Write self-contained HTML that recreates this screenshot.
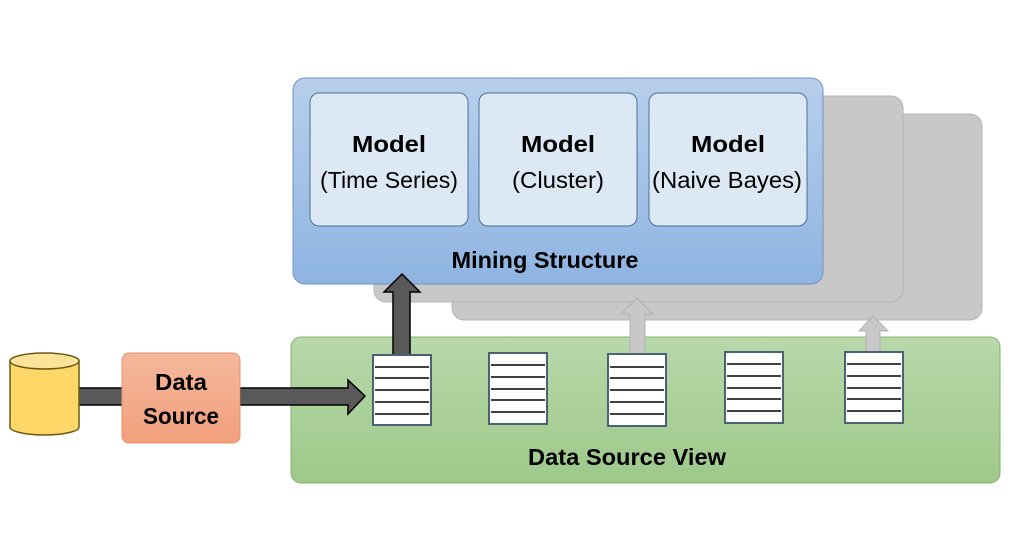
<!DOCTYPE html>
<html><head><meta charset="utf-8"><style>
html,body{margin:0;padding:0;background:#fff;}
svg{display:block;}
text{font-family:"Liberation Sans",sans-serif;}
</style></head><body>
<svg width="1026" height="556" viewBox="0 0 1026 556" xmlns="http://www.w3.org/2000/svg">
<defs>
<linearGradient id="bl" x1="0" y1="0" x2="0" y2="1"><stop offset="0" stop-color="#b7cfec"/><stop offset="1" stop-color="#8fb4e2"/></linearGradient>
<linearGradient id="gr" x1="0" y1="0" x2="0" y2="1"><stop offset="0" stop-color="#b8d8aa"/><stop offset="1" stop-color="#9ec98a"/></linearGradient>
<linearGradient id="or" x1="0" y1="0" x2="0" y2="1"><stop offset="0" stop-color="#f5b79c"/><stop offset="1" stop-color="#f2a07c"/></linearGradient>
</defs>
<rect x="452" y="114" width="530" height="206" rx="12" fill="#c8c8c8" stroke="#b4b4b4"/>
<rect x="374" y="96" width="529" height="206" rx="12" fill="#c8c8c8" stroke="#b4b4b4"/>
<rect x="293" y="78" width="530" height="206" rx="12" fill="url(#bl)" stroke="#6f94c4"/>
<g fill="#dde8f5" stroke="#4f6f95" stroke-width="1">
<rect x="310" y="93" width="158" height="133" rx="9"/>
<rect x="479" y="93" width="158" height="133" rx="9"/>
<rect x="649" y="93" width="158" height="133" rx="9"/>
</g>
<g font-size="23" text-anchor="middle" fill="#000">
<text x="389" y="152" font-weight="bold" textLength="74" lengthAdjust="spacingAndGlyphs">Model</text>
<text x="389" y="188" textLength="138" lengthAdjust="spacingAndGlyphs">(Time Series)</text>
<text x="558" y="152" font-weight="bold" textLength="74" lengthAdjust="spacingAndGlyphs">Model</text>
<text x="558" y="188" textLength="92" lengthAdjust="spacingAndGlyphs">(Cluster)</text>
<text x="728" y="152" font-weight="bold" textLength="74" lengthAdjust="spacingAndGlyphs">Model</text>
<text x="727" y="188" textLength="150" lengthAdjust="spacingAndGlyphs">(Naive Bayes)</text>
<text x="545" y="268" font-weight="bold" textLength="187" lengthAdjust="spacingAndGlyphs">Mining Structure</text>
</g>
<rect x="291" y="337" width="709" height="146" rx="10" fill="url(#gr)" stroke="#85b06f"/>
<text x="627" y="465" font-size="23" font-weight="bold" text-anchor="middle" textLength="198" lengthAdjust="spacingAndGlyphs">Data Source View</text>
<polygon points="630,355 630,314 621,314 637,298 653,314 645,314 645,355" fill="#c8c8c8" stroke="#b0b0b0"/>
<polygon points="866,352 866,331 859,331 873,316 888,331 880,331 880,352" fill="#c8c8c8" stroke="#b0b0b0"/>
<polygon points="393,355 393,292 384,292 402,274 420,292 410,292 410,355" fill="#595959" stroke="#000" stroke-width="1.5"/>
<g fill="#fff" stroke="#4a6272" stroke-width="2">
<rect x="373" y="355" width="58" height="70"/>
<rect x="489" y="353" width="58" height="71"/>
<rect x="608" y="354" width="58" height="72"/>
<rect x="725" y="352" width="58" height="71"/>
<rect x="845" y="352" width="58" height="71"/>
</g>
<g stroke="#000" stroke-width="1.6">
<path d="M375 367h54M375 378h54M375 390h54M375 402h54M375 414h54"/>
<path d="M491 365h54M491 377h54M491 389h54M491 400h54M491 412h54"/>
<path d="M610 367h54M610 378h54M610 390h54M610 402h54M610 414h54"/>
<path d="M727 364h54M727 376h54M727 388h54M727 399h54M727 411h54"/>
<path d="M847 364h54M847 376h54M847 388h54M847 399h54M847 411h54"/>
</g>
<rect x="78" y="388" width="46" height="17" fill="#595959" stroke="#000" stroke-width="1.5"/>
<polygon points="240,388 348,388 348,380 365,396 348,414 348,405 240,405" fill="#595959" stroke="#000" stroke-width="1.5"/>
<path d="M10 361 v66 a34.5 8 0 0 0 69 0 v-66" fill="#fdd868" stroke="#6b5a10" stroke-width="1.5"/>
<ellipse cx="44.5" cy="361" rx="34.5" ry="8" fill="#fde29a" stroke="#6b5a10" stroke-width="1.5"/>
<rect x="122" y="353" width="118" height="90" rx="7" fill="url(#or)" stroke="#e3936e"/>
<g font-size="23" font-weight="bold" text-anchor="middle">
<text x="181" y="390" textLength="52" lengthAdjust="spacingAndGlyphs">Data</text>
<text x="181" y="424" textLength="76" lengthAdjust="spacingAndGlyphs">Source</text>
</g>
</svg>
</body></html>
